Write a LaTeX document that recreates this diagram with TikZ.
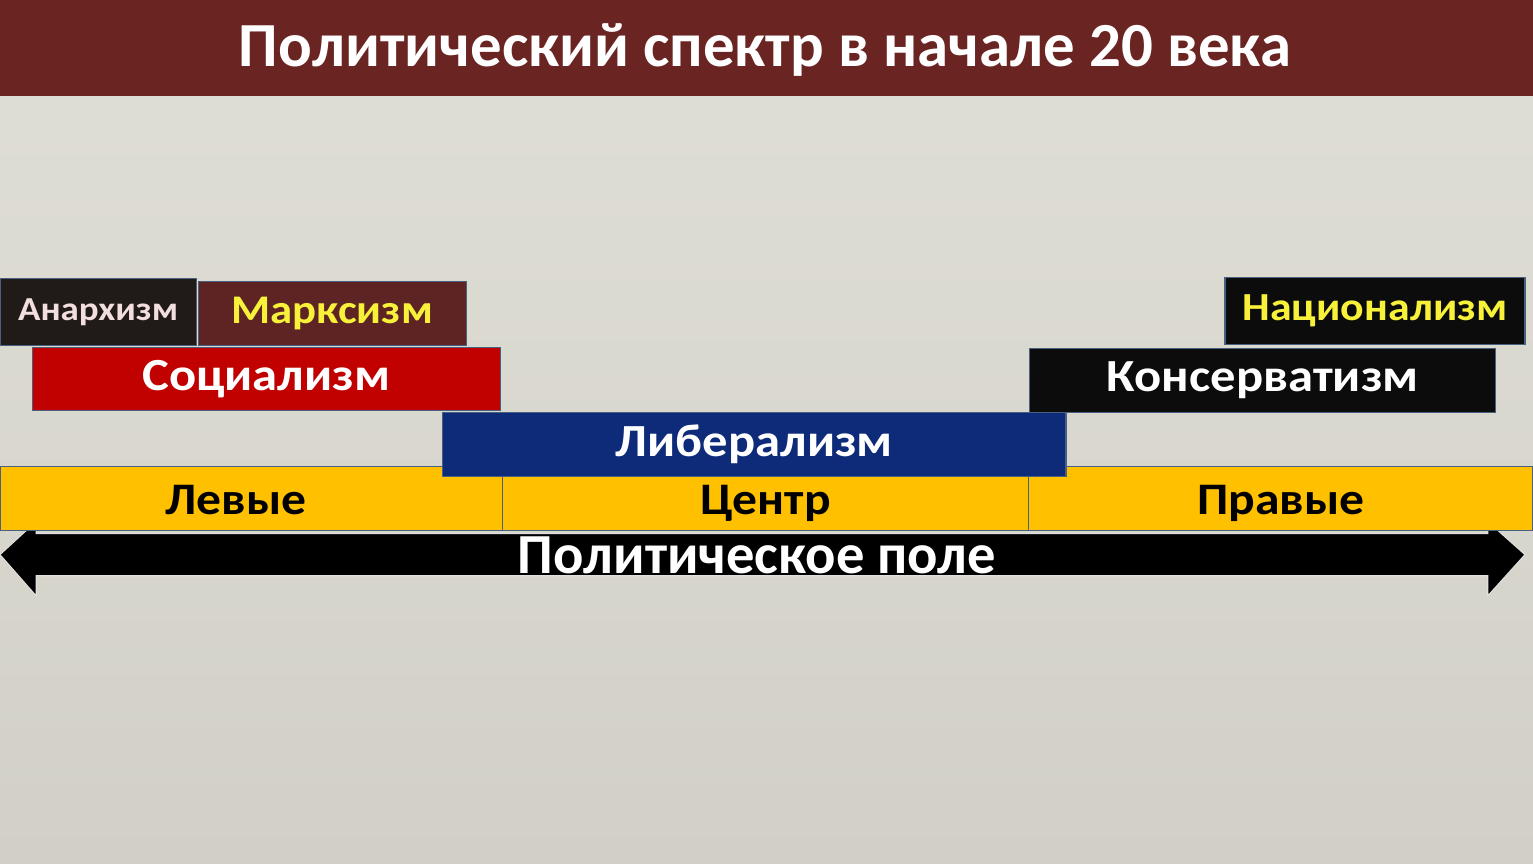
\documentclass[tikz,border=0pt]{standalone}
\usepackage{fontspec}
\setmainfont{Carlito}
\newfontfamily\widefont{Carlito}[FakeStretch=1.1]
\usepackage{tikz}

\definecolor{bgtop}{HTML}{E0DFD6}
\definecolor{bgbot}{HTML}{D2D0C6}
\definecolor{titlered}{HTML}{6A2422}
\definecolor{anarchbg}{HTML}{201A18}
\definecolor{anarchtx}{HTML}{F2DEDC}
\definecolor{marxbg}{HTML}{5E2424}
\definecolor{textyel}{HTML}{F7F13A}
\definecolor{socred}{HTML}{C10000}
\definecolor{libblue}{HTML}{0D2B78}
\definecolor{darkbox}{HTML}{0C0C0C}
\definecolor{fieldyel}{HTML}{FFC000}
\definecolor{edgeblue}{HTML}{4A6080}

\begin{document}
\begin{tikzpicture}[
    box/.style={draw=edgeblue, line width=0.6pt, inner sep=0pt, font=\widefont\bfseries},
    fieldbox/.style={box, fill=fieldyel, minimum height=1.28cm, text=black,
      text height=0.64cm, text depth=0pt,
      font=\widefont\bfseries\fontsize{25.5}{28}\selectfont}
  ]
          \useasboundingbox (0,0) rectangle (30.46,-17.16);
          \shade[top color=bgtop, bottom color=bgbot] (0,0) rectangle (30.46,-17.16);
          % title
          \fill[titlered] (0,0) rectangle (30.46,-1.9);
          \node[text=white, font=\bfseries\fontsize{35.5}{38}\selectfont] (title) at (15.2,-1.0) {Политический спектр в начале 20 века};
          % left
          \node[box, fill=anarchbg, text=anarchtx, minimum width=3.9cm, minimum height=1.32cm,
            font=\widefont\bfseries\fontsize{19}{21}\selectfont] (anarch) at (1.95,-6.2) {Анархизм};
          \node[box, fill=marxbg, text=textyel, minimum width=5.32cm, minimum height=1.26cm,
            font=\widefont\bfseries\fontsize{23}{26}\selectfont] (marx) at (6.6,-6.23) {Марксизм};
          \node[box, fill=socred, text=white, minimum width=9.3cm, minimum height=1.26cm,
            font=\widefont\bfseries\fontsize{26}{29}\selectfont] (social) at (5.29,-7.53) {Социализм};
          % right
          \node[box, fill=darkbox, text=textyel, minimum width=5.96cm, minimum height=1.32cm,
            font=\widefont\bfseries\fontsize{22.5}{25}\selectfont] (nation) at (27.32,-6.18) {Национализм};
          \node[box, fill=darkbox, text=white, minimum width=9.26cm, minimum height=1.28cm,
            font=\widefont\bfseries\fontsize{26}{29}\selectfont] (conserv) at (25.09,-7.56) {Консерватизм};
          % political field arrow
          \filldraw[black, draw=white!75!gray, line width=0.6pt]
            (0,-11.02) -- (0.72,-10.36) -- (0.72,-10.6) -- (29.56,-10.6) -- (29.56,-10.36)
            -- (30.3,-11.02) -- (29.56,-11.84) -- (29.56,-11.44) -- (0.72,-11.44) -- (0.72,-11.84) -- cycle;
          \node[text=white, font=\bfseries\fontsize{32}{35}\selectfont] (field) at (15.04,-11.04) {Политическое поле};
          % left / centre / right
          \node[fieldbox, minimum width=9.98cm] (left) at (4.99,-9.9) {Левые\hspace*{0.6cm}};
          \node[fieldbox, minimum width=10.46cm] (centre) at (15.21,-9.9) {Центр};
          \node[fieldbox, minimum width=10.02cm] (right) at (25.45,-9.9) {Правые};
          % centre
          \node[box, fill=libblue, text=white, minimum width=12.38cm, minimum height=1.26cm,
            font=\widefont\bfseries\fontsize{26}{29}\selectfont] (liber) at (14.99,-8.83) {Либерализм};
\end{tikzpicture}
\end{document}
